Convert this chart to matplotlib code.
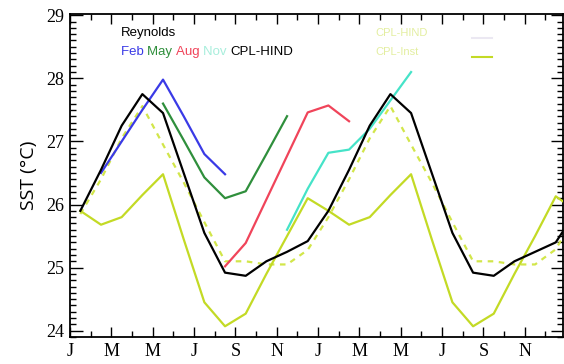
import matplotlib
matplotlib.use("Agg")
import matplotlib.pyplot as plt
import numpy as np
from matplotlib.ticker import MultipleLocator

# months positions (mid-month), 0 = start of first January
months_2yr = np.arange(25) + 0.5

reynolds = [25.9, 26.55, 27.25, 27.75, 27.45, 26.5, 25.55, 24.92, 24.87, 25.1, 25.25, 25.42,
            25.9, 26.55, 27.25, 27.75, 27.45, 26.5, 25.55, 24.92, 24.87, 25.1, 25.25, 25.4,
            25.9]
cpl_inst = [25.9, 25.68, 25.8, 26.15, 26.48, 25.45, 24.45, 24.07, 24.27, 24.9, 25.5, 26.1,
            25.9, 25.68, 25.8, 26.15, 26.48, 25.45, 24.45, 24.07, 24.27, 24.9, 25.5, 26.13,
            25.9]
cpl_hind = [25.85, 26.4, 27.05, 27.56, 26.95, 26.35, 25.72, 25.1, 25.1, 25.05, 25.05, 25.28,
            25.8, 26.4, 27.05, 27.56, 26.95, 26.35, 25.72, 25.1, 25.1, 25.05, 25.05, 25.29,
            25.85]

# forecasts: (start month index, values)
feb_start, feb_fc = 1, [26.5, 27.0, 27.5, 27.98, 27.4, 26.8, 26.48]
may_start, may_fc = 4, [27.6, 27.02, 26.43, 26.1, 26.21, 26.8, 27.4]
aug_start, aug_fc = 7, [25.02, 25.39, 26.08, 26.77, 27.46, 27.57, 27.32]
nov_start, nov_fc = 10, [25.6, 26.25, 26.82, 26.87, 27.2, 27.65, 28.1]

tick_labels = ["J", "M", "M", "J", "S", "N", "J", "M", "M", "J", "S", "N"]

c_yel = "#c3da25"
c_yel_d = "#d2e64a"
c_blue = "#3a3ae6"
c_green = "#2f8f3c"
c_red = "#f0445a"
c_cyan = "#45e3c8"

fig = plt.figure(figsize=(5.64, 3.64), dpi=100)
ax = fig.add_axes([70/564, 1-337/364, (563-70)/564, (337-14)/364])

ax.plot(months_2yr, cpl_hind, color=c_yel_d, lw=1.6, ls=(0, (2.5, 2.5)), zorder=2)
ax.plot(months_2yr, cpl_inst, color=c_yel, lw=1.6, zorder=3)
ax.plot(months_2yr, reynolds, color="black", lw=1.6, zorder=4)

for start, vals, col in [(feb_start, feb_fc, c_blue), (may_start, may_fc, c_green),
                         (aug_start, aug_fc, c_red), (nov_start, nov_fc, c_cyan)]:
    x = np.arange(start, start + len(vals)) + 0.5
    ax.plot(x, vals, color=col, lw=1.6, zorder=3)

ax.set_xlim(0, 23.85)
ax.set_ylim(23.9, 29.02)
ax.set_xticks(np.arange(0, 24, 2))
ax.set_xticklabels(tick_labels, fontfamily="Liberation Serif", fontsize=13)
ax.xaxis.set_minor_locator(MultipleLocator(1))
ax.set_yticks([24, 25, 26, 27, 28, 29])
ax.set_yticklabels(["24", "25", "26", "27", "28", "29"], fontfamily="Liberation Serif", fontsize=13)
ax.yaxis.set_minor_locator(MultipleLocator(0.1))
ax.tick_params(which="both", direction="in", top=True, right=True, width=1.0)
ax.tick_params(axis="y", which="major", length=9, pad=4)
ax.tick_params(axis="y", which="minor", length=4)
ax.tick_params(axis="x", which="major", length=7, pad=4)
ax.tick_params(axis="x", which="minor", length=4)
for s in ax.spines.values():
    s.set_linewidth(1.3)

ax.set_ylabel("SST (°C)", fontfamily="Open Sans", fontsize=14, labelpad=6)

# legend-like texts
fs = 9.5
fig.text(121/564, 1-33/364, "Reynolds", color="black", fontsize=fs, va="center", fontfamily="Liberation Sans")
words = [("Feb ", c_blue), ("May ", c_green), ("Aug ", c_red), ("Nov ", "#a8eedc"), ("CPL-HIND", "black")]
renderer = fig.canvas.get_renderer()
xpos = 121/564
for w, col in words:
    t = fig.text(xpos, 1-52/364, w, color=col, fontsize=fs, va="center", fontfamily="Liberation Sans")
    bb = t.get_window_extent(renderer=renderer)
    xpos += bb.width / 564

fig.text(375/564, 1-33/364, "CPL-HIND", color="#e3eea0", fontsize=8, va="center", fontfamily="Liberation Sans")
fig.text(375/564, 1-52/364, "CPL-Inst", color="#e3eea0", fontsize=8, va="center", fontfamily="Liberation Sans")
ax.plot([0.815, 0.855], [0.925, 0.925], transform=ax.transAxes, color="#ebe8f2", lw=1.5, clip_on=False)
ax.plot([0.815, 0.855], [0.866, 0.866], transform=ax.transAxes, color=c_yel, lw=1.5, clip_on=False)

fig.savefig("out.png", dpi=100)
